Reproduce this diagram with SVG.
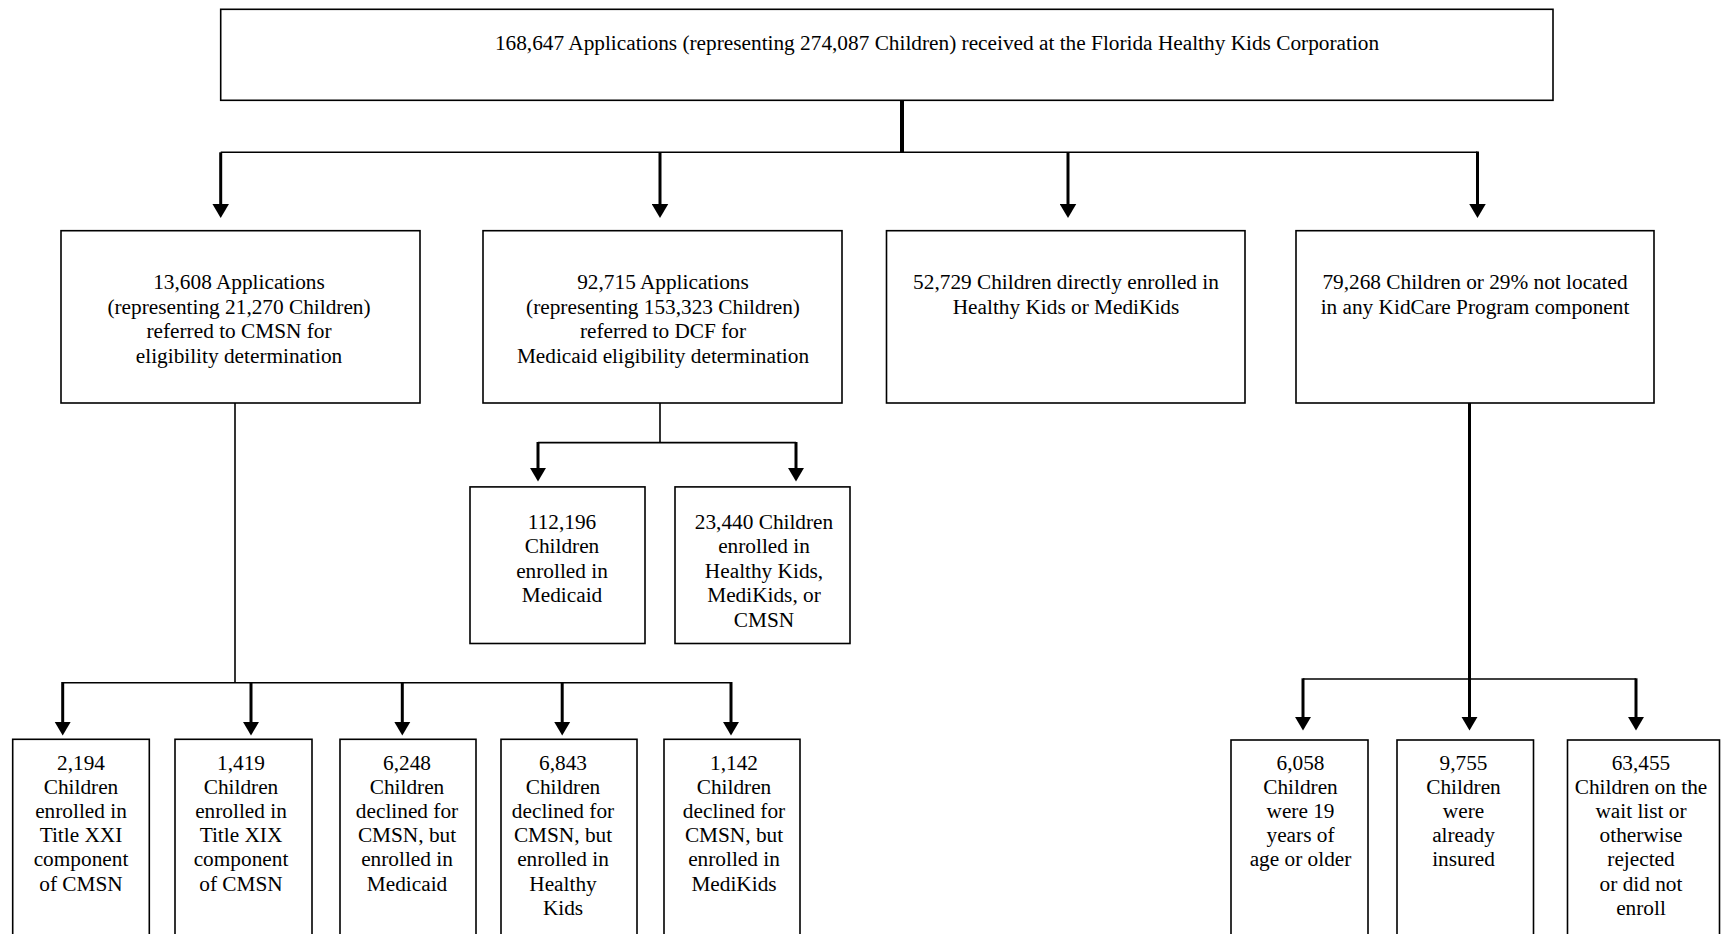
<svg xmlns="http://www.w3.org/2000/svg" width="1727" height="934" viewBox="0 0 1727 934">
<style>
.box{fill:#fff;stroke:#000;stroke-width:1.6}
.t{font-family:"Liberation Serif","Times New Roman",serif;font-size:21.3px;fill:#000;text-anchor:middle}
.thin{fill:none;stroke:#000;stroke-width:1.6}
.stem{fill:none;stroke:#000;stroke-width:3;marker-end:url(#ah)}
.thick{fill:none;stroke:#000;stroke-width:4}
</style>
<defs>
<marker id="ah" markerUnits="userSpaceOnUse" markerWidth="15" markerHeight="17" refX="0.5" refY="8.25" orient="auto" viewBox="0 0 15 16.5">
<path d="M0,0 L14,8.25 L0,16.5 z" fill="#000"/>
</marker>
</defs>
<rect width="1727" height="934" fill="#fff"/>
<g id="connectors">
<line class="thick" x1="902" y1="100" x2="902" y2="153"/>
<polyline class="thin" points="220.7,152.3 1477.5,152.3"/>
<line class="stem" x1="220.7" y1="152.3" x2="220.7" y2="204.5"/>
<line class="stem" x1="660" y1="152.3" x2="660" y2="204.5"/>
<line class="stem" x1="1068" y1="152.3" x2="1068" y2="204.5"/>
<line class="stem" x1="1477.5" y1="151.5" x2="1477.5" y2="204.5"/>
<line class="thin" x1="235" y1="403" x2="235" y2="682.7"/>
<line class="thin" x1="62.7" y1="682.7" x2="731" y2="682.7"/>
<line class="stem" x1="62.7" y1="682" x2="62.7" y2="722"/>
<line class="stem" x1="251" y1="682.7" x2="251" y2="722"/>
<line class="stem" x1="402.3" y1="682.7" x2="402.3" y2="722"/>
<line class="stem" x1="562.2" y1="682.7" x2="562.2" y2="722"/>
<line class="stem" x1="731" y1="682" x2="731" y2="722"/>
<line class="thin" x1="660" y1="403" x2="660" y2="442.6"/>
<line class="thin" x1="538" y1="442.6" x2="796" y2="442.6"/>
<line class="stem" x1="538" y1="442" x2="538" y2="468"/>
<line class="stem" x1="796" y1="442" x2="796" y2="468"/>
<line class="stem" x1="1469.5" y1="403" x2="1469.5" y2="717"/>
<line class="thin" x1="1303" y1="679" x2="1636" y2="679"/>
<line class="stem" x1="1303" y1="678.3" x2="1303" y2="717"/>
<line class="stem" x1="1636" y1="678.3" x2="1636" y2="717"/>
</g>
<g id="n-top">
<rect class="box" x="220.7" y="9.3" width="1332.3" height="91"/>
<text class="t" x="937" y="49.5">168,647 Applications (representing 274,087 Children) received at the Florida Healthy Kids Corporation</text>
</g>
<g id="n-cmsn">
<rect class="box" x="61" y="230.7" width="359" height="172.3"/>
<text class="t"><tspan x="239" y="289.3">13,608 Applications</tspan><tspan x="239" y="313.7">(representing 21,270 Children)</tspan><tspan x="239" y="338.1">referred to CMSN for</tspan><tspan x="239" y="362.5">eligibility determination</tspan></text>
</g>
<g id="n-dcf">
<rect class="box" x="483" y="230.7" width="359" height="172.3"/>
<text class="t"><tspan x="663" y="289.3">92,715 Applications</tspan><tspan x="663" y="313.7">(representing 153,323 Children)</tspan><tspan x="663" y="338.1">referred to DCF for</tspan><tspan x="663" y="362.5">Medicaid eligibility determination</tspan></text>
</g>
<g id="n-direct">
<rect class="box" x="886.5" y="230.7" width="358.5" height="172.3"/>
<text class="t"><tspan x="1066" y="289.3">52,729 Children directly enrolled in</tspan><tspan x="1066" y="313.7">Healthy Kids or MediKids</tspan></text>
</g>
<g id="n-notlocated">
<rect class="box" x="1296" y="230.7" width="358" height="172.3"/>
<text class="t"><tspan x="1475" y="289.3">79,268 Children or 29% not located</tspan><tspan x="1475" y="313.7">in any KidCare Program component</tspan></text>
</g>
<g id="n-medicaid">
<rect class="box" x="470" y="486.9" width="175" height="156.6"/>
<text class="t"><tspan x="562" y="529">112,196</tspan><tspan x="562" y="553.4">Children</tspan><tspan x="562" y="577.8">enrolled in</tspan><tspan x="562" y="602.2">Medicaid</tspan></text>
</g>
<g id="n-hk">
<rect class="box" x="675" y="486.9" width="175" height="156.6"/>
<text class="t"><tspan x="764" y="529">23,440 Children</tspan><tspan x="764" y="553.4">enrolled in</tspan><tspan x="764" y="577.8">Healthy Kids,</tspan><tspan x="764" y="602.2">MediKids, or</tspan><tspan x="764" y="626.6">CMSN</tspan></text>
</g>
<g id="n-b1">
<rect class="box" x="12.7" y="739.3" width="136.6" height="210"/>
<text class="t"><tspan x="81" y="769.5">2,194</tspan><tspan x="81" y="793.7">Children</tspan><tspan x="81" y="817.9">enrolled in</tspan><tspan x="81" y="842.1">Title XXI</tspan><tspan x="81" y="866.3">component</tspan><tspan x="81" y="890.5">of CMSN</tspan></text>
</g>
<g id="n-b2">
<rect class="box" x="175" y="739.3" width="137" height="210"/>
<text class="t"><tspan x="241" y="769.5">1,419</tspan><tspan x="241" y="793.7">Children</tspan><tspan x="241" y="817.9">enrolled in</tspan><tspan x="241" y="842.1">Title XIX</tspan><tspan x="241" y="866.3">component</tspan><tspan x="241" y="890.5">of CMSN</tspan></text>
</g>
<g id="n-b3">
<rect class="box" x="340" y="739.3" width="136" height="210"/>
<text class="t"><tspan x="407" y="769.5">6,248</tspan><tspan x="407" y="793.7">Children</tspan><tspan x="407" y="817.9">declined for</tspan><tspan x="407" y="842.1">CMSN, but</tspan><tspan x="407" y="866.3">enrolled in</tspan><tspan x="407" y="890.5">Medicaid</tspan></text>
</g>
<g id="n-b4">
<rect class="box" x="501" y="739.3" width="136" height="210"/>
<text class="t"><tspan x="563" y="769.5">6,843</tspan><tspan x="563" y="793.7">Children</tspan><tspan x="563" y="817.9">declined for</tspan><tspan x="563" y="842.1">CMSN, but</tspan><tspan x="563" y="866.3">enrolled in</tspan><tspan x="563" y="890.5">Healthy</tspan><tspan x="563" y="914.7">Kids</tspan></text>
</g>
<g id="n-b5">
<rect class="box" x="664" y="739.3" width="136" height="210"/>
<text class="t"><tspan x="734" y="769.5">1,142</tspan><tspan x="734" y="793.7">Children</tspan><tspan x="734" y="817.9">declined for</tspan><tspan x="734" y="842.1">CMSN, but</tspan><tspan x="734" y="866.3">enrolled in</tspan><tspan x="734" y="890.5">MediKids</tspan></text>
</g>
<g id="n-r1">
<rect class="box" x="1231" y="740" width="137" height="210"/>
<text class="t"><tspan x="1300.5" y="769.5">6,058</tspan><tspan x="1300.5" y="793.7">Children</tspan><tspan x="1300.5" y="817.9">were 19</tspan><tspan x="1300.5" y="842.1">years of</tspan><tspan x="1300.5" y="866.3">age or older</tspan></text>
</g>
<g id="n-r2">
<rect class="box" x="1397" y="740" width="136.5" height="210"/>
<text class="t"><tspan x="1463.5" y="769.5">9,755</tspan><tspan x="1463.5" y="793.7">Children</tspan><tspan x="1463.5" y="817.9">were</tspan><tspan x="1463.5" y="842.1">already</tspan><tspan x="1463.5" y="866.3">insured</tspan></text>
</g>
<g id="n-r3">
<rect class="box" x="1567.5" y="740" width="152" height="210"/>
<text class="t"><tspan x="1641" y="769.5">63,455</tspan><tspan x="1641" y="793.7">Children on the</tspan><tspan x="1641" y="817.9">wait list or</tspan><tspan x="1641" y="842.1">otherwise</tspan><tspan x="1641" y="866.3">rejected</tspan><tspan x="1641" y="890.5">or did not</tspan><tspan x="1641" y="914.7">enroll</tspan></text>
</g>
</svg>
